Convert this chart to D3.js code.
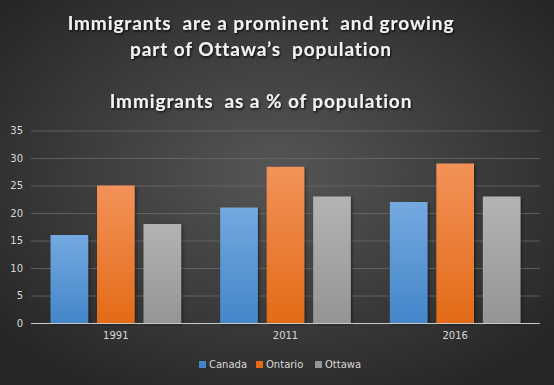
<!DOCTYPE html>
<html lang="en">
<head>
<meta charset="utf-8">
<title>Immigrants as a % of population</title>
<script src="https://cdn.jsdelivr.net/npm/d3@7"></script>
<style>
  body{margin:0;background:#2b2b2b;}
  svg{display:block;}
  .tick text{fill:#d9d9d9;font-family:"DejaVu Sans",sans-serif;font-size:10px;}
  .title{fill:#f2f2f2;font-family:Lato,"Open Sans",sans-serif;font-weight:bold;white-space:pre;}
</style>
</head>
<body>
<div id="chart"></div>
<script>
// data
var years = ["1991", "2011", "2016"]
var seriesNames = ["Canada", "Ontario", "Ottawa"]
var canada = [16, 21, 22]
var ontario = [25, 28.4, 29]
var ottawa = [18, 23, 23]
var yTicks = [0, 5, 10, 15, 20, 25, 30, 35]

var colors = {
    Canada: ["#74a9e0", "#4486c9"],
    Ontario: ["#f39259", "#e36b17"],
    Ottawa: ["#b3b3b3", "#959595"]
}

var w = 554, h = 385
var svg = d3.select("#chart").append("svg").attr("width", w).attr("height", h)
var defs = svg.append("defs")

var bg = defs.append("radialGradient").attr("id", "bg")
    .attr("cx", "50%").attr("cy", "45%").attr("r", "65%")
bg.append("stop").attr("offset", "0%").attr("stop-color", "#565656")
bg.append("stop").attr("offset", "100%").attr("stop-color", "#262626")

seriesNames.forEach(function(s){
    var g = defs.append("linearGradient").attr("id", "g" + s)
        .attr("x1", 0).attr("y1", 0).attr("x2", 0).attr("y2", 1)
    g.append("stop").attr("offset", "0%").attr("stop-color", colors[s][0])
    g.append("stop").attr("offset", "100%").attr("stop-color", colors[s][1])
})
var sh = defs.append("filter").attr("id", "shadow").attr("x", "-20%").attr("y", "-10%").attr("width", "150%").attr("height", "130%")
sh.append("feDropShadow").attr("dx", 1.5).attr("dy", 1.5).attr("stdDeviation", 1.5)
    .attr("flood-color", "#000").attr("flood-opacity", 0.45)
var tsh = defs.append("filter").attr("id", "tshadow")
tsh.append("feDropShadow").attr("dx", 1).attr("dy", 1.5).attr("stdDeviation", 1)
    .attr("flood-color", "#000").attr("flood-opacity", 0.8)

svg.append("rect").attr("width", w).attr("height", h).attr("fill", "url(#bg)")

// titles
var titles = [
    {t: "Immigrants  are a prominent  and growing", y: 30},
    {t: "part of Ottawa’s  population", y: 56},
    {t: "Immigrants  as a % of population", y: 108}
]
svg.selectAll(".title").data(titles).enter().append("text")
    .attr("class", "title")
    .attr("x", 261).attr("y", function(d){ return d.y })
    .attr("text-anchor", "middle").attr("font-size", 19).attr("letter-spacing", 0.9)
    .attr("filter", "url(#tshadow)")
    .text(function(d){ return d.t })

var left = 31, right = 540, plotTop = 130.5, bottom = 323

var x = d3.scaleBand().domain(years).range([left, right])
var xs = d3.scaleBand().domain(seriesNames).range([0, x.bandwidth()])
    .paddingInner(0.19).paddingOuter(0.42)
var y = d3.scaleLinear().domain([0, 35]).range([bottom, plotTop])

// gridlines and y axis
var yAxis = d3.axisLeft(y).tickValues(yTicks).tickSize(-(right - left)).tickPadding(8)
var gy = svg.append("g").attr("transform", "translate(" + left + ",0)").call(yAxis)
gy.select(".domain").remove()
gy.selectAll(".tick line").attr("stroke", "#6a6a6a").attr("stroke-width", 1)
    .attr("stroke-opacity", function(d){ return d === 0 ? 0 : 0.8 })

var data = years.map(function(yr, i){
    return {year: yr, values: [
        {name: "Canada", v: canada[i]},
        {name: "Ontario", v: ontario[i]},
        {name: "Ottawa", v: ottawa[i]}
    ]}
})

var groups = svg.selectAll(".grp").data(data).enter().append("g")
    .attr("class", "grp")
    .attr("transform", function(d){ return "translate(" + x(d.year) + ",0)" })
groups.selectAll("rect").data(function(d){ return d.values }).enter().append("rect")
    .attr("x", function(d){ return xs(d.name) })
    .attr("width", xs.bandwidth())
    .attr("y", function(d){ return y(d.v) })
    .attr("height", function(d){ return bottom - y(d.v) })
    .attr("fill", function(d){ return "url(#g" + d.name + ")" })
    .attr("filter", "url(#shadow)")

// baseline
svg.append("line").attr("x1", left).attr("x2", right).attr("y1", bottom + 0.5).attr("y2", bottom + 0.5)
    .attr("stroke", "#c8c8c8").attr("stroke-width", 1.2)

// x axis
var gx = svg.append("g").attr("transform", "translate(0," + bottom + ")")
    .call(d3.axisBottom(x).tickSize(0).tickPadding(9))
gx.select(".domain").remove()

// legend
var legX = [199, 256, 315]
var leg = svg.selectAll(".leg").data(seriesNames).enter().append("g")
    .attr("class", "leg")
    .attr("transform", function(d, i){ return "translate(" + legX[i] + ",361)" })
leg.append("rect").attr("width", 7).attr("height", 7)
    .attr("fill", function(d){ return colors[d][1] })
leg.append("text").attr("x", 10).attr("y", 7)
    .attr("fill", "#d9d9d9").attr("font-family", "DejaVu Sans, sans-serif").attr("font-size", 10)
    .text(function(d){ return d })
</script>
</body>
</html>
